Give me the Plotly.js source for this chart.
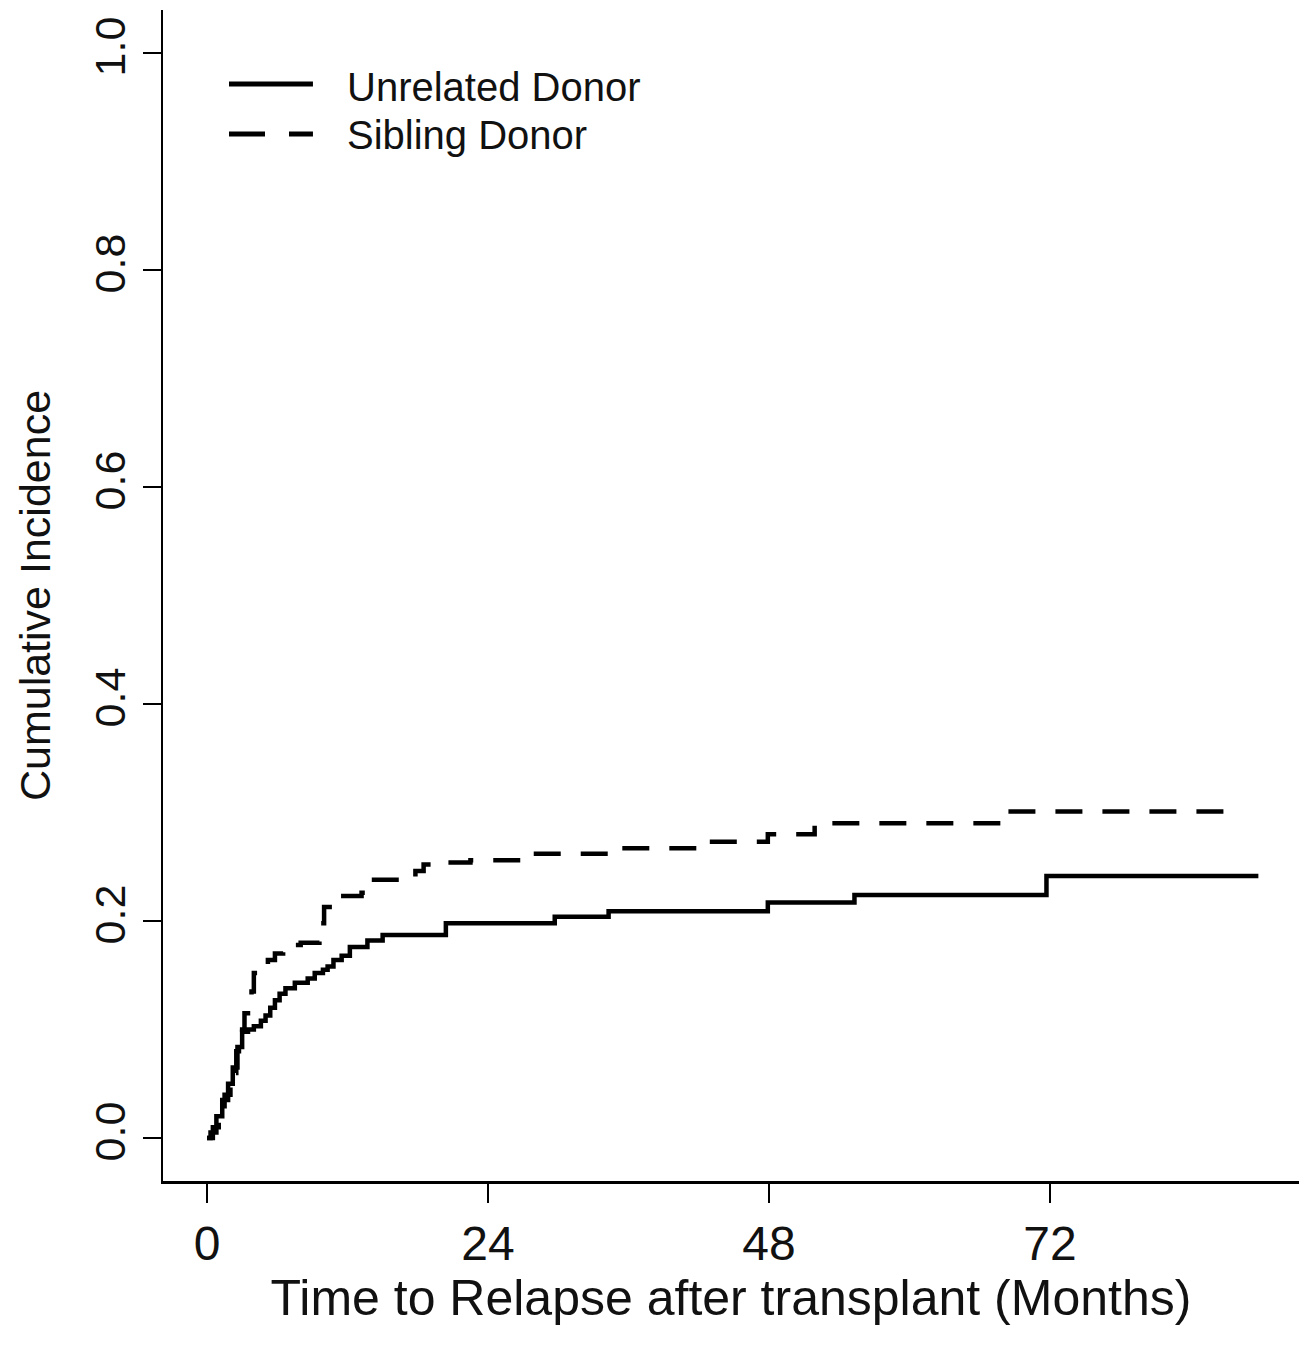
<!DOCTYPE html>
<html>
<head>
<meta charset="utf-8">
<script src="https://cdn.plot.ly/plotly-3.0.1.min.js"></script>
<style>html,body{margin:0;padding:0;background:#fff}#chart{width:1309px;height:1347px}</style>
</head>
<body>
<div id="chart"></div>
<script>
// Time to relapse (months) and cumulative incidence
const unrelatedTime = [0, 0.3, 0.8, 1.3, 1.8, 2.2, 2.6, 3.0, 3.5, 4.0, 4.6, 5.0, 5.4, 5.8, 6.2, 6.7, 7.5, 8.6, 9.2, 9.9, 10.3, 10.8, 11.5, 12.2, 13.7, 15.0, 20.4, 29.7, 34.3, 47.9, 55.3, 71.7, 89.8];
const unrelatedCI   = [0, 0.005, 0.02, 0.035, 0.05, 0.065, 0.084, 0.098, 0.100, 0.103, 0.108, 0.113, 0.120, 0.127, 0.133, 0.138, 0.143, 0.147, 0.152, 0.155, 0.158, 0.164, 0.168, 0.176, 0.182, 0.187, 0.198, 0.204, 0.209, 0.217, 0.224, 0.2415, 0.2415];

const siblingTime = [0, 0.5, 1.0, 1.5, 2.0, 2.5, 3.0, 3.2, 3.8, 4.0, 4.5, 5.2, 5.8, 6.5, 7.2, 8.0, 9.6, 10.0, 11.2, 13.2, 14.0, 17.8, 18.5, 20.5, 22.5, 27.5, 35.0, 42.5, 47.9, 51.9, 68.0, 87.5];
const siblingCI   = [0, 0.01, 0.025, 0.04, 0.06, 0.08, 0.10, 0.115, 0.135, 0.152, 0.158, 0.164, 0.170, 0.175, 0.178, 0.180, 0.198, 0.213, 0.223, 0.226, 0.238, 0.246, 0.252, 0.254, 0.256, 0.262, 0.267, 0.273, 0.280, 0.290, 0.301, 0.301];

const xTicks = [0, 24, 48, 72];
const yTicks = [0.0, 0.2, 0.4, 0.6, 0.8, 1.0];
const yTickText = ["0.0", "0.2", "0.4", "0.6", "0.8", "1.0"];
const seriesNames = ["Unrelated Donor", "Sibling Donor"];

const FONT = '"Liberation Sans", Arial, sans-serif';

const traces = [
  {x: unrelatedTime, y: unrelatedCI, type: 'scatter', mode: 'lines', name: seriesNames[0],
   line: {shape: 'hv', color: '#000', width: 4.5}},
  {x: siblingTime, y: siblingCI, type: 'scatter', mode: 'lines', name: seriesNames[1],
   line: {shape: 'hv', color: '#000', width: 4.5, dash: '27px,20px'}}
];

const layout = {
  width: 1309, height: 1347,
  margin: {l: 163, r: 10, t: 10, b: 166},
  paper_bgcolor: '#fff', plot_bgcolor: '#fff',
  showlegend: false,
  font: {family: FONT, color: '#000'},
  xaxis: {
    range: [-3.76, 93.27], tickvals: xTicks, ticktext: xTicks.map(String),
    showgrid: false, zeroline: false, showline: true, linecolor: '#000', linewidth: 2.5,
    ticks: 'outside', ticklen: 19, tickwidth: 2, tickcolor: '#000',
    tickfont: {size: 48, family: FONT, color: '#111'},
    title: {text: 'Time to Relapse after transplant (Months)', font: {size: 50, family: FONT, color: '#111'}, standoff: 10}
  },
  yaxis: {
    range: [-0.0396, 1.0396], tickvals: yTicks, ticktext: yTickText, tickangle: -90,
    showgrid: false, zeroline: false, showline: true, linecolor: '#000', linewidth: 2.5,
    ticks: 'outside', ticklen: 18, tickwidth: 2, tickcolor: '#000',
    tickfont: {size: 43, family: FONT, color: '#111'},
    title: {text: 'Cumulative Incidence', font: {size: 43, family: FONT, color: '#111'}, standoff: 22}
  },
  shapes: [
    {type: 'line', xref: 'paper', yref: 'paper', x0: 0.0581, x1: 0.132, y0: 0.9368, y1: 0.9368,
     line: {color: '#000', width: 5}},
    {type: 'line', xref: 'paper', yref: 'paper', x0: 0.0581, x1: 0.132, y0: 0.8941, y1: 0.8941,
     line: {color: '#000', width: 5, dash: '36px,24px'}}
  ],
  annotations: [
    {xref: 'paper', yref: 'paper', x: 0.1602, y: 0.934, xanchor: 'left', yanchor: 'middle', showarrow: false,
     text: seriesNames[0], font: {size: 40, family: FONT, color: '#111'}},
    {xref: 'paper', yref: 'paper', x: 0.1602, y: 0.893, xanchor: 'left', yanchor: 'middle', showarrow: false,
     text: seriesNames[1], font: {size: 40, family: FONT, color: '#111'}}
  ]
};

Plotly.newPlot('chart', traces, layout, {displayModeBar: false, staticPlot: true});
</script>
</body>
</html>
